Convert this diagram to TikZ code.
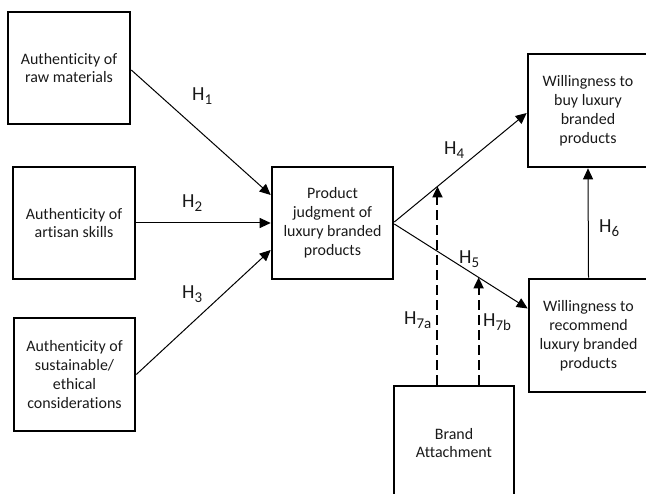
\documentclass[tikz,border=0pt]{standalone}
\usepackage{fontspec}
\setmainfont{Carlito}[Ligatures={NoCommon}]
\usetikzlibrary{arrows.meta,calc}
\newcommand{\hyp}[1]{H\raisebox{-4bp}{\fontsize{15}{15}\selectfont #1}}
\begin{document}
\begin{tikzpicture}[x=1bp,y=-1bp,
  box/.style={draw, line width=2.6bp, align=center, inner sep=0pt,
    font=\fontsize{16}{19}\selectfont, text=black!90},
  link/.style={line width=1bp, -{Triangle[length=11bp,width=10bp]}},
  dlink/.style={line width=2bp, dash pattern=on 10bp off 5bp, -{Triangle[length=11bp,width=10bp]}},
  hlab/.style={anchor=base west, inner sep=0pt, font=\fontsize{20}{20}\selectfont, text=black!90}]
\useasboundingbox (0,0) rectangle (646,494);
\clip (0,0) rectangle (646,494);
\node[box, minimum width=122bp, minimum height=112bp] (b1) at (69,68) {Authenticity of\\raw materials};
\node[box, minimum width=122bp, minimum height=112bp] (b2) at (74,223) {Authenticity of\\artisan skills};
\node[box, minimum width=121bp, minimum height=113bp] (b3) at (74.5,374.5) {Authenticity of\\sustainable/\\ethical\\considerations};
\node[box, minimum width=121bp, minimum height=112bp] (c) at (332.5,223) {Product\\judgment of\\luxury branded\\products};
\node[box, minimum width=120bp, minimum height=113bp] (buy) at (588,110.5) {Willingness to\\buy luxury\\branded\\products};
\node[box, minimum width=119bp, minimum height=113bp] (rec) at (588.5,335.5) {Willingness to\\recommend\\luxury branded\\products};
\node[box, minimum width=120bp, minimum height=114bp] (ba) at (454,443) {Brand\\Attachment};
% main paths
\draw[link] ($(b1.east)+(0,2)$) -- ($(c.west)+(0,-28)$);
\draw[link] (b2.east) -- (c.west);
\draw[link] (b3.east) -- ($(c.west)+(0,27)$);
\coordinate (h4s) at ($(c.east)+(0,-1)$);
\coordinate (h4e) at ($(buy.west)+(0,2.5)$);
\coordinate (h5s) at ($(c.east)+(0,1)$);
\coordinate (h5e) at ($(rec.west)+(0,-27)$);
\draw[link] (h4s) -- (h4e);
\draw[link] (h5s) -- (h5e);
\draw[link] (rec.north) -- (buy.south);
% moderation
\coordinate (m4) at ($(h4s)!0.326!(h4e)$);
\coordinate (m5) at ($(h5s)!0.632!(h5e)$);
\draw[dlink] (ba.north -| m4) -- (m4);
\draw[dlink] (ba.north -| m5) -- (m5);
% labels
\node[hlab] (l1) at (192,101) {\hyp{1}};
\node[hlab] (l2) at (182,208) {\hyp{2}};
\node[hlab] (l3) at (182,298) {\hyp{3}};
\node[hlab] (l4) at (444,155) {\hyp{4}};
\node[hlab] (l5) at (459,263) {\hyp{5}};
\node[hlab] (l6) at (599,233) {\hyp{6}};
\node[hlab] (l7a) at (404,324) {\hyp{7a}};
\node[hlab] (l7b) at (483,326) {\hyp{7b}};
\end{tikzpicture}
\end{document}
